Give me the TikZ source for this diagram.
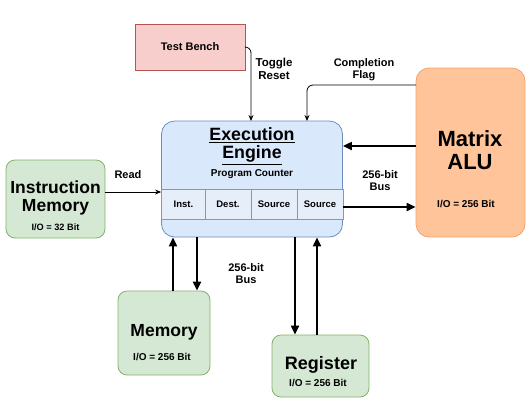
\documentclass[tikz,border=0pt]{standalone}
\usepackage{fontspec}
\setmainfont{Liberation Sans}
\usetikzlibrary{arrows.meta}
\definecolor{BenchFill}{HTML}{F8CECC}
\definecolor{BenchLine}{HTML}{B85450}
\definecolor{EngineFill}{HTML}{DAE8FC}
\definecolor{EngineLine}{HTML}{6C8EBF}
\definecolor{CellFill}{HTML}{E6EEFA}
\definecolor{CellLine}{HTML}{8C96A8}
\definecolor{MemFill}{HTML}{D5E8D4}
\definecolor{MemLine}{HTML}{82B366}
\definecolor{AluFill}{HTML}{FFC49A}
\definecolor{AluLine}{HTML}{F4A36C}
\newcommand{\fsz}[1]{\fontsize{#1}{#1}\selectfont\bfseries}

\begin{document}
\begin{tikzpicture}[x=1pt,y=-1pt,
  box/.style={draw,line width=0.8pt,rounded corners=9pt,inner sep=0pt},
  cell/.style={draw=CellLine,fill=CellFill,line width=0.6pt,minimum height=30pt,inner sep=0pt,font=\fsz{9.5}},
  txt/.style={inner sep=0pt,align=center},
  sig/.style={-{Stealth[length=6pt,width=5pt]},line width=0.8pt,rounded corners=6pt},
  bus/.style={-{Triangle[length=9pt,width=8pt]},line width=2pt}]
\useasboundingbox (0,0) rectangle (532,405);

% boxes
\node[draw=BenchLine,fill=BenchFill,line width=0.8pt,minimum width=110pt,minimum height=46pt,inner sep=0pt,font=\fsz{11}] (tb) at (190,47) {Test Bench};
\node[box,draw=EngineLine,fill=EngineFill,rounded corners=13pt,minimum width=181pt,minimum height=116pt] (ee) at (252,179) {};
\node[box,draw=MemLine,fill=MemFill,minimum width=99pt,minimum height=78pt] (im) at (55.5,199) {};
\node[box,draw=AluLine,fill=AluFill,rounded corners=13pt,minimum width=109pt,minimum height=169pt] (alu) at (470.5,152.5) {};
\node[box,draw=MemLine,fill=MemFill,minimum width=92pt,minimum height=84pt] (mem) at (164,333) {};
\node[box,draw=MemLine,fill=MemFill,minimum width=97pt,minimum height=62pt] (reg) at (320.5,366) {};

% program counter fields
\node[cell,minimum width=44pt] (c1) at (183.5,204) {Inst.};
\node[cell,minimum width=46pt] (c2) at (228,204) {Dest.};
\node[cell,minimum width=46pt] (c3) at (274,204) {Source};
\node[cell,minimum width=46pt] (c4) at (320,204) {Source};

% texts
\node[txt,font=\fsz{17.8}] (eet) at (252,146) {\underline{Execution}\\[1pt]\underline{Engine}};
\node[txt,font=\fsz{10}] (pc) at (252,174) {Program Counter};
\node[txt,font=\fsz{17.5}] (imt) at (55.5,198) {Instruction\\[0pt]Memory};
\node[txt,font=\fsz{9.2}] (imio) at (55.5,227) {I/O = 32 Bit};
\node[txt,font=\fsz{22}] (alut) at (470,150) {Matrix\\[1pt]ALU};
\node[txt,font=\fsz{10}] (aluio) at (466,204) {I/O = 256 Bit};
\node[txt,font=\fsz{17.5}] (memt) at (164,332) {Memory};
\node[txt,font=\fsz{10}] (memio) at (162,357) {I/O = 256 Bit};
\node[txt,font=\fsz{18}] (regt) at (321,365) {Register};
\node[txt,font=\fsz{10}] (regio) at (318,383) {I/O = 256 Bit};

% labels
\node[txt,font=\fsz{11}] (rd) at (128,175) {Read};
\node[txt,font=\fsz{11.5}] (tg) at (274,69) {Toggle\\[1pt]Reset};
\node[txt,font=\fsz{11}] (cf) at (364,70) {Completion\\[1pt]Flag};
\node[txt,font=\fsz{11}] (bus1) at (380,181) {256-bit\\[1pt]Bus};
\node[txt,font=\fsz{11}] (bus2) at (246,274) {256-bit\\[1pt]Bus};

% control signals
\coordinate (tgin) at (251,121);
\coordinate (cfout) at (416,85);
\coordinate (cfin) at (307,121);
\draw[sig] (tb.east) -| (tgin);
\draw[sig] (cfout) -| (cfin);
\draw[sig] (im.east |- 0,192) -- (ee.west |- 0,192);

% buses
\draw[bus] (alu.west |- 0,146) -- (ee.east |- 0,146);
\draw[bus] (ee.east |- 0,207) -- (alu.west |- 0,207);
\draw[bus] (mem.north -| 173,0) -- (ee.south -| 173,0);
\draw[bus] (ee.south -| 197,0) -- (mem.north -| 197,0);
\draw[bus] (ee.south -| 295,0) -- (reg.north -| 295,0);
\draw[bus] (reg.north -| 317,0) -- (ee.south -| 317,0);
\end{tikzpicture}
\end{document}
